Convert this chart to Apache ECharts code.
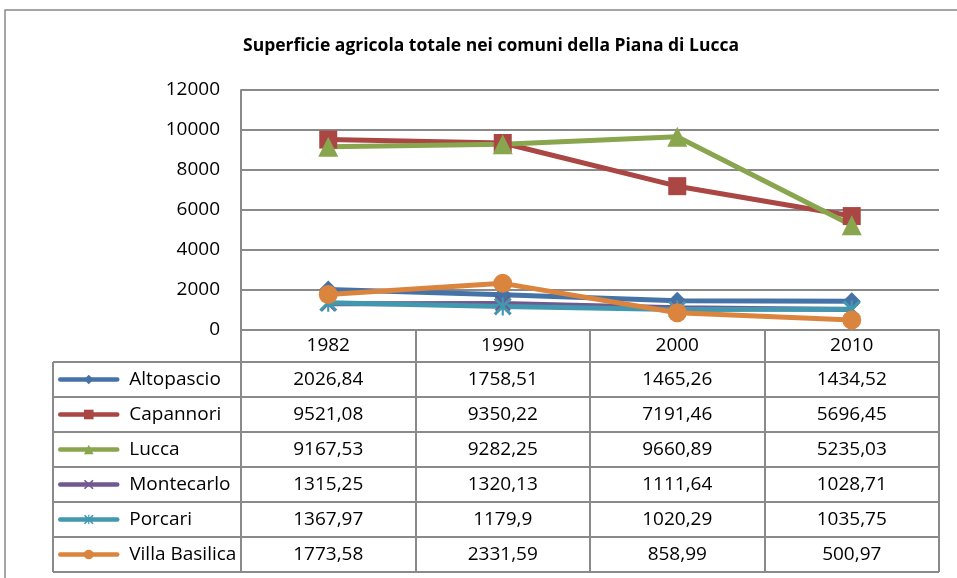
<!DOCTYPE html>
<html>
<head>
<meta charset="utf-8">
<script src="https://cdn.jsdelivr.net/npm/echarts@6/dist/echarts.min.js"></script>
<style>
  html, body { margin: 0; padding: 0; background: #fff; }
  #chart { width: 957px; height: 578px; }
</style>
</head>
<body>
<div id="chart"></div>
<script>
// dati
const years = ['1982', '1990', '2000', '2010'];
const comuni = ['Altopascio', 'Capannori', 'Lucca', 'Montecarlo', 'Porcari', 'Villa Basilica'];
const altopascio = [2026.84, 1758.51, 1465.26, 1434.52];
const capannori = [9521.08, 9350.22, 7191.46, 5696.45];
const lucca = [9167.53, 9282.25, 9660.89, 5235.03];
const montecarlo = [1315.25, 1320.13, 1111.64, 1028.71];
const porcari = [1367.97, 1179.9, 1020.29, 1035.75];
const villaBasilica = [1773.58, 2331.59, 858.99, 500.97];
const yTicks = [0, 2000, 4000, 6000, 8000, 10000, 12000];

const seriesValues = [altopascio, capannori, lucca, montecarlo, porcari, villaBasilica];
const colors = ['#4572A7', '#AA4643', '#89A54E', '#71588F', '#4198AF', '#DB843D'];

// simboli stile Excel
const X_PATH = 'path://M0,1.2 L1.2,0 L5,3.8 L8.8,0 L10,1.2 L6.2,5 L10,8.8 L8.8,10 L5,6.2 L1.2,10 L0,8.8 L3.8,5 Z';
const STAR_PATH = X_PATH.replace(' Z', ' Z M4.4,0 L5.6,0 L5.6,10 L4.4,10 Z');
const symbols = ['diamond', 'rect', 'triangle', X_PATH, STAR_PATH, 'circle'];
const symbolSizes = [18, 18, 20, 16, 18, 19];

const FONT = '"Open Sans", "Liberation Sans", sans-serif';
const FS = 19;
const GRID_COLOR = '#8a8a8a';
const HEADER_H = 32;
const ROW_H = 35;
const TABLE_LEFT = 53;

const fmt = v => String(v).replace('.', ',');

const chart = echarts.init(document.getElementById('chart'), null, { renderer: 'canvas' });

const option = {
  animation: false,
  backgroundColor: '#fff',
  color: colors,
  title: {
    text: 'Superficie agricola totale nei comuni della Piana di Lucca',
    left: 238,
    top: 32,
    textStyle: { fontFamily: FONT, fontSize: 17.5, fontWeight: 'bold', color: '#000' },
  },
  grid: { left: 241, right: 18, top: 90, bottom: 248 },
  legend: {
    data: comuni,
    orient: 'vertical',
    left: 58,
    top: 362,
    padding: 0,
    itemGap: 0,
    itemWidth: 57,
    itemHeight: 12,
    selectedMode: false,
    lineStyle: { width: 4.5, cap: 'round' },
    textStyle: { fontFamily: FONT, fontSize: FS, color: '#000', lineHeight: ROW_H, padding: [0, 0, 0, 7] },
  },
  xAxis: {
    type: 'category',
    data: years,
    boundaryGap: true,
    axisLine: { lineStyle: { color: GRID_COLOR, width: 2 } },
    axisTick: { show: true, interval: 0, length: HEADER_H + ROW_H * comuni.length, lineStyle: { color: GRID_COLOR, width: 2 } },
    axisLabel: { fontFamily: FONT, fontSize: FS, color: '#000', margin: 6 },
    splitLine: { show: false },
  },
  yAxis: {
    type: 'value',
    min: yTicks[0],
    max: yTicks[yTicks.length - 1],
    interval: yTicks[1] - yTicks[0],
    axisLine: { show: true, lineStyle: { color: GRID_COLOR, width: 2 } },
    axisTick: { show: false },
    axisLabel: { fontFamily: FONT, fontSize: FS, color: '#000', margin: 21, formatter: v => String(v) },
    splitLine: { lineStyle: { color: GRID_COLOR, width: 2 } },
  },
  series: comuni.map((name, i) => ({
    name,
    type: 'line',
    data: seriesValues[i],
    symbol: symbols[i],
    symbolSize: symbolSizes[i],
    showAllSymbol: true,
    lineStyle: { width: 5, color: colors[i] },
    itemStyle: { color: colors[i] },
  })),
};

chart.setOption(option);

// tabella dati sotto il grafico, allineata alle categorie dell'asse x
function buildTable() {
  const axisY = chart.convertToPixel({ yAxisIndex: 0 }, 0);
  const xCenters = years.map((y, i) => chart.convertToPixel({ xAxisIndex: 0 }, i));
  const band = xCenters[1] - xCenters[0];
  const plotRight = xCenters[xCenters.length - 1] + band / 2;
  const tableTop = axisY + HEADER_H;
  const tableBottom = tableTop + ROW_H * comuni.length;
  const lineStyle = { stroke: GRID_COLOR, lineWidth: 2 };
  const els = [
    { type: 'rect', shape: { x: 5, y: 10, width: 1200, height: 1200 }, style: { fill: null, stroke: '#888', lineWidth: 1.5 }, silent: true, z: -1 },
    { type: 'line', shape: { x1: TABLE_LEFT, y1: tableTop, x2: TABLE_LEFT, y2: tableBottom }, style: lineStyle, silent: true },
  ];
  for (let r = 0; r <= comuni.length; r++) {
    const y = tableTop + ROW_H * r;
    els.push({ type: 'line', shape: { x1: TABLE_LEFT, y1: y, x2: plotRight, y2: y }, style: lineStyle, silent: true });
  }
  seriesValues.forEach((vals, r) => {
    vals.forEach((v, c) => {
      els.push({
        type: 'text',
        x: xCenters[c],
        y: tableTop + ROW_H * r + ROW_H / 2,
        silent: true,
        style: { text: fmt(v), fontFamily: FONT, fontSize: FS, fill: '#000', align: 'center', verticalAlign: 'middle' },
      });
    });
  });
  chart.setOption({ graphic: { elements: els } });
}
buildTable();
</script>
</body>
</html>
